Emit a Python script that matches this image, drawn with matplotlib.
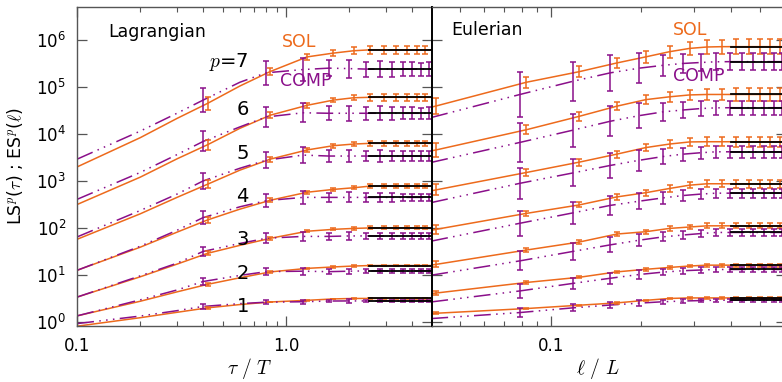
import numpy as np
import matplotlib
matplotlib.use("Agg")
import matplotlib.pyplot as plt
from matplotlib.ticker import FixedLocator, LogLocator, FuncFormatter, NullFormatter

ORANGE = "#ED6A1C"
PURPLE = "#8A0F8A"
DASH = (11, 3.5, 1, 3.5, 1, 3.5, 1, 3.5)

orders = [1, 2, 3, 4, 5, 6, 7]

# ---- Lagrangian panel, log10 of LS^p(tau) ----
lag_sol_tau = [0.1, 0.2, 0.3, 0.42, 0.6, 0.84, 1.26, 1.68, 2.10, 2.52, 2.94, 3.36, 3.78, 4.20, 4.62, 5.0]
lag_sol_bars = [3, 5, 6, 7, 8, 9, 10, 11, 12, 13, 14]
lag_sol_log = [
    [-0.09, 0.09, 0.205, 0.30, 0.37, 0.425, 0.46, 0.49, 0.50, 0.50, 0.50, 0.50, 0.50, 0.50, 0.50, 0.50],
    [0.13, 0.44, 0.64, 0.80, 0.94, 1.065, 1.14, 1.17, 1.19, 1.20, 1.20, 1.20, 1.20, 1.20, 1.20, 1.20],
    [0.53, 0.96, 1.23, 1.46, 1.63, 1.78, 1.93, 1.97, 1.99, 2.00, 2.00, 2.00, 2.00, 2.00, 2.00, 2.00],
    [1.10, 1.59, 1.91, 2.17, 2.40, 2.59, 2.76, 2.82, 2.855, 2.89, 2.89, 2.89, 2.89, 2.89, 2.89, 2.89],
    [1.76, 2.30, 2.65, 2.93, 3.23, 3.465, 3.66, 3.75, 3.785, 3.80, 3.80, 3.80, 3.80, 3.80, 3.80, 3.80],
    [2.50, 3.08, 3.47, 3.77, 4.12, 4.40, 4.61, 4.72, 4.77, 4.78, 4.78, 4.78, 4.78, 4.78, 4.78, 4.78],
    [3.30, 3.92, 4.33, 4.65, 5.02, 5.33, 5.64, 5.72, 5.77, 5.79, 5.79, 5.79, 5.79, 5.79, 5.79, 5.79],
]
lag_sol_err7 = [0.13, 0.08, 0.06, 0.06, 0.07, 0.09, 0.09, 0.09, 0.09, 0.09, 0.09]

lag_comp_tau = [0.1, 0.2, 0.3, 0.4, 0.6, 0.8, 1.2, 1.6, 2.0, 2.4, 2.8, 3.2, 3.6, 4.0, 4.4, 4.8, 5.0]
lag_comp_bars = [3, 5, 6, 7, 8, 9, 10, 11, 12, 13, 14, 15]
lag_comp_log = [
    [-0.035, 0.125, 0.24, 0.33, 0.39, 0.42, 0.43, 0.445, 0.447, 0.447, 0.447, 0.447, 0.447, 0.447, 0.447, 0.447, 0.447],
    [0.13, 0.47, 0.68, 0.86, 0.99, 1.07, 1.08, 1.07, 1.08, 1.086, 1.086, 1.086, 1.086, 1.086, 1.086, 1.086, 1.086],
    [0.53, 0.98, 1.25, 1.50, 1.67, 1.78, 1.82, 1.82, 1.83, 1.83, 1.83, 1.83, 1.83, 1.83, 1.83, 1.83, 1.83],
    [1.10, 1.61, 1.95, 2.22, 2.45, 2.58, 2.65, 2.65, 2.65, 2.65, 2.65, 2.65, 2.65, 2.65, 2.65, 2.65, 2.65],
    [1.81, 2.37, 2.72, 3.00, 3.27, 3.44, 3.55, 3.53, 3.53, 3.53, 3.53, 3.53, 3.53, 3.53, 3.53, 3.53, 3.53],
    [2.61, 3.18, 3.56, 3.84, 4.15, 4.36, 4.45, 4.44, 4.44, 4.44, 4.44, 4.44, 4.44, 4.44, 4.44, 4.44, 4.44],
    [3.465, 4.06, 4.44, 4.72, 5.10, 5.30, 5.37, 5.40, 5.39, 5.38, 5.38, 5.38, 5.38, 5.38, 5.38, 5.38, 5.38],
]
lag_comp_err7 = [0.25, 0.25, 0.24, 0.17, 0.19, 0.16, 0.17, 0.16, 0.15, 0.15, 0.14, 0.15]
lag_plateau_from = 2.5

# ---- Eulerian panel, log10 of ES^p(l) ----
eul_sol_l = [0.04, 0.0415, 0.083, 0.1245, 0.166, 0.2075, 0.249, 0.2905, 0.332, 0.3735, 0.415, 0.4565, 0.498, 0.5395, 0.581, 0.61]
eul_sol_bars = [1, 2, 3, 4, 5, 6, 7, 8, 9, 10, 11, 12, 13, 14]
eul_sol_log = [
    [0.179, 0.185, 0.285, 0.356, 0.405, 0.46, 0.50, 0.511, 0.511, 0.511, 0.511, 0.511, 0.511, 0.511, 0.511, 0.511],
    [0.605, 0.615, 0.84, 0.95, 1.065, 1.12, 1.16, 1.19, 1.208, 1.208, 1.208, 1.208, 1.208, 1.208, 1.208, 1.208],
    [1.21, 1.225, 1.53, 1.70, 1.87, 1.92, 1.99, 2.02, 2.045, 2.045, 2.045, 2.045, 2.045, 2.045, 2.045, 2.045],
    [1.95, 1.97, 2.31, 2.49, 2.66, 2.75, 2.84, 2.91, 2.94, 2.94, 2.94, 2.94, 2.94, 2.94, 2.94, 2.94],
    [2.79, 2.81, 3.18, 3.40, 3.57, 3.71, 3.785, 3.83, 3.834, 3.834, 3.834, 3.834, 3.834, 3.834, 3.834, 3.834],
    [3.64, 3.66, 4.09, 4.375, 4.59, 4.73, 4.79, 4.83, 4.84, 4.84, 4.84, 4.84, 4.84, 4.84, 4.84, 4.84],
    [4.57, 4.595, 5.10, 5.325, 5.51, 5.64, 5.75, 5.82, 5.85, 5.857, 5.857, 5.857, 5.857, 5.857, 5.857, 5.857],
]
eul_sol_err7 = [0.18, 0.12, 0.11, 0.11, 0.12, 0.13, 0.14, 0.15, 0.15, 0.16, 0.16, 0.16, 0.16, 0.16]

eul_comp_l = [0.04, 0.079, 0.1185, 0.158, 0.1975, 0.237, 0.2765, 0.316, 0.3555, 0.395, 0.4345, 0.474, 0.5135, 0.553, 0.5925, 0.61]
eul_comp_bars = [1, 2, 3, 4, 5, 6, 7, 8, 9, 10, 11, 12, 13, 14]
eul_comp_log = [
    [0.072, 0.20, 0.30, 0.36, 0.40, 0.43, 0.445, 0.455, 0.462, 0.462, 0.462, 0.462, 0.462, 0.462, 0.462, 0.462],
    [0.426, 0.66, 0.82, 0.93, 1.01, 1.06, 1.09, 1.105, 1.116, 1.116, 1.116, 1.116, 1.116, 1.116, 1.116, 1.116],
    [0.995, 1.30, 1.50, 1.64, 1.74, 1.81, 1.85, 1.88, 1.904, 1.904, 1.904, 1.904, 1.904, 1.904, 1.904, 1.904],
    [1.72, 2.10, 2.32, 2.48, 2.57, 2.64, 2.69, 2.72, 2.74, 2.74, 2.74, 2.74, 2.74, 2.74, 2.74, 2.74],
    [2.54, 2.95, 3.17, 3.33, 3.44, 3.52, 3.57, 3.60, 3.62, 3.62, 3.62, 3.62, 3.62, 3.62, 3.62, 3.62],
    [3.395, 3.82, 4.08, 4.27, 4.39, 4.47, 4.51, 4.54, 4.555, 4.558, 4.558, 4.558, 4.558, 4.558, 4.558, 4.558],
    [4.35, 4.84, 5.12, 5.30, 5.40, 5.46, 5.50, 5.52, 5.535, 5.538, 5.538, 5.538, 5.538, 5.538, 5.538, 5.538],
]
eul_comp_err7 = [0.48, 0.41, 0.38, 0.32, 0.23, 0.20, 0.18, 0.18, 0.18, 0.18, 0.18, 0.18, 0.18, 0.18]
eul_plateau_from = 0.4

# error bar size of each order relative to p=7
sol_err_scale = [0.12, 0.22, 0.35, 0.5, 0.65, 0.82, 1.0]
comp_err_scale = [0.18, 0.3, 0.42, 0.55, 0.7, 0.85, 1.0]


def draw(ax, x, rows, bars, err7, scale, color, dashed, plateau_from):
    x = np.array(x)
    for p, row in zip(orders, rows):
        y = 10 ** np.array(row)
        if dashed:
            ax.plot(x, y, color=color, lw=1.1, dashes=DASH, zorder=2)
        else:
            ax.plot(x, y, color=color, lw=1.1, zorder=2)
        e = np.array(err7) * scale[p - 1]
        yb = y[bars]
        ax.errorbar(x[bars], yb, yerr=[yb - yb * 10 ** -e, yb * 10 ** e - yb],
                    fmt="none", ecolor=color, elinewidth=1.1, capsize=2.0,
                    capthick=1.1, zorder=3)
        ax.plot([plateau_from, x[-1]], [y[-1], y[-1]], color="k", lw=1.3, zorder=4)


fig = plt.figure(figsize=(7.82, 3.82), dpi=100)
axL = fig.add_axes([0.0988, 0.1479, 0.4532, 0.8346])
axR = fig.add_axes([0.5520, 0.1479, 0.4532, 0.8346])

draw(axL, lag_sol_tau, lag_sol_log, lag_sol_bars, lag_sol_err7, sol_err_scale, ORANGE, False, lag_plateau_from)
draw(axL, lag_comp_tau, lag_comp_log, lag_comp_bars, lag_comp_err7, comp_err_scale, PURPLE, True, lag_plateau_from)
draw(axR, eul_sol_l, eul_sol_log, eul_sol_bars, eul_sol_err7, sol_err_scale, ORANGE, False, eul_plateau_from)
draw(axR, eul_comp_l, eul_comp_log, eul_comp_bars, eul_comp_err7, comp_err_scale, PURPLE, True, eul_plateau_from)

for ax in (axL, axR):
    ax.set_xscale("log")
    ax.set_yscale("log")
    ax.set_ylim(0.84, 5.1e6)
    ax.yaxis.set_major_locator(FixedLocator([1, 1e1, 1e2, 1e3, 1e4, 1e5, 1e6]))
    ax.yaxis.set_minor_locator(FixedLocator([]))
    ax.xaxis.set_minor_locator(LogLocator(base=10, subs=np.arange(2, 10), numticks=20))
    ax.xaxis.set_minor_formatter(NullFormatter())
    ax.tick_params(which="both", direction="in", top=True, right=True,
                   colors="#555555", labelcolor="k", labelsize=12)
    ax.tick_params(which="major", length=7, width=0.9, pad=8)
    ax.tick_params(which="minor", length=3.5, width=0.8)
    for s in ax.spines.values():
        s.set_color("#555555")
        s.set_linewidth(1.0)

axL.set_xlim(0.1, 4.96)
axL.xaxis.set_major_locator(FixedLocator([0.1, 1.0]))
axL.xaxis.set_major_formatter(FuncFormatter(lambda v, pos: "%.1f" % v))
axL.yaxis.set_major_formatter(FuncFormatter(lambda v, pos: r"10$^{%d}$" % round(np.log10(v))))

axR.set_xlim(0.0401, 0.609)
axR.xaxis.set_major_locator(FixedLocator([0.1]))
axR.xaxis.set_major_formatter(FuncFormatter(lambda v, pos: "%.1f" % v))
axR.yaxis.set_major_formatter(NullFormatter())
axR.spines["left"].set_color("k")
axR.spines["left"].set_linewidth(1.4)

axL.set_xlabel(r"$\tau\ /\ T$", fontsize=14, math_fontfamily="cm")
axL.xaxis.set_label_coords(0.487, -0.095)
axR.set_xlabel(r"$\ell\ /\ L$", fontsize=14, math_fontfamily="cm")
axR.xaxis.set_label_coords(0.468, -0.095)
axL.set_ylabel(r"LS$^{p}$($\tau$) ; ES$^{p}$($\ell$)", fontsize=12.5, math_fontfamily="cm")
axL.yaxis.set_label_coords(-0.148, 0.5)

axL.text(0.087, 0.921, "Lagrangian", transform=axL.transAxes, fontsize=12.5, va="center")
axR.text(0.055, 0.927, "Eulerian", transform=axR.transAxes, fontsize=12.5, va="center")
axL.text(0.578, 0.890, "SOL", transform=axL.transAxes, fontsize=12.5, va="center", color=ORANGE)
axL.text(0.572, 0.767, "COMP", transform=axL.transAxes, fontsize=12.5, va="center", color=PURPLE)
axR.text(0.682, 0.927, "SOL", transform=axR.transAxes, fontsize=12.5, va="center", color=ORANGE)
axR.text(0.682, 0.783, "COMP", transform=axR.transAxes, fontsize=12.5, va="center", color=PURPLE)

axL.text(0.484, 0.825, r"$p$=7", transform=axL.transAxes, fontsize=14, ha="right",
         va="center", math_fontfamily="cm")
for lab, yy in zip(["6", "5", "4", "3", "2", "1"], [0.676, 0.541, 0.404, 0.270, 0.164, 0.059]):
    axL.text(0.484, yy, lab, transform=axL.transAxes, fontsize=14, ha="right", va="center")

fig.savefig("out.png", dpi=100)
